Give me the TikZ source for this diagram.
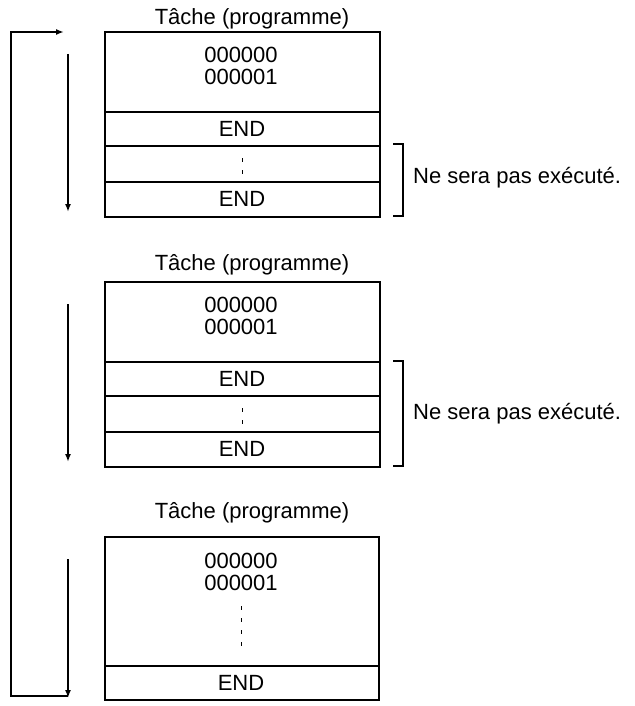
\documentclass[tikz,border=0pt]{standalone}
\usepackage{fontspec}
\setmainfont{Liberation Sans}
\usetikzlibrary{arrows.meta}
\tikzstyle{cell}=[draw,line width=1.6pt]
\tikzstyle{txt}=[inner sep=0pt,font=\fontsize{22}{22}\selectfont]
\tikzstyle{dots}=[line width=0.9pt,dash pattern=on 4pt off 8pt]
\tikzstyle{flow}=[line width=1.6pt,-{Latex[length=8pt,width=6pt]}]

\begin{document}
\begin{tikzpicture}[x=1pt,y=-1pt]
  \useasboundingbox (0,0) rectangle (634,706);

  % first task
  \node[txt] (t1) at (252,19) {Tâche (programme)};
  \draw[cell] (105,32) rectangle (380,217);
  \draw[cell] (105,112) -- (380,112);
  \draw[cell] (105,146) -- (380,146);
  \draw[cell] (105,182) -- (380,182);
  \node[txt] (a1) at (241,55) {000000};
  \node[txt] (b1) at (241,77) {000001};
  \node[txt] (e1) at (242,129) {END};
  \draw[dots] (242,158) -- (242,180);
  \node[txt] (f1) at (242,199) {END};
  \draw[line width=1.4pt] (393,144) -- (403,144) -- (403,216) -- (393,216);
  \node[txt,anchor=west] (n1) at (413,178) {Ne sera pas exécuté.};

  % second task
  \node[txt] (t2) at (252,265) {Tâche (programme)};
  \draw[cell] (105,282) rectangle (380,467);
  \draw[cell] (105,362) -- (380,362);
  \draw[cell] (105,396) -- (380,396);
  \draw[cell] (105,432) -- (380,432);
  \node[txt] (a2) at (241,305) {000000};
  \node[txt] (b2) at (241,327) {000001};
  \node[txt] (e2) at (242,379) {END};
  \draw[dots] (242,408) -- (242,430);
  \node[txt] (f2) at (242,449) {END};
  \draw[line width=1.4pt] (393,361) -- (403,361) -- (403,466) -- (393,466);
  \node[txt,anchor=west] (n2) at (413,414) {Ne sera pas exécuté.};

  % third task
  \node[txt] (t3) at (252,513) {Tâche (programme)};
  \draw[cell] (105,537) rectangle (379,700);
  \draw[cell] (105,666) -- (379,666);
  \node[txt] (a3) at (241,561) {000000};
  \node[txt] (b3) at (241,583) {000001};
  \draw[dots] (241,606) -- (241,648);
  \node[txt] (e3) at (241,683) {END};

  % flow arrows
  \coordinate (s1) at (68,54);  \coordinate (d1) at (68,212);
  \coordinate (s2) at (68,304); \coordinate (d2) at (68,462);
  \coordinate (s3) at (68,559); \coordinate (d3) at (68,698);
  \draw[flow] (s1) -- (d1);
  \draw[flow] (s2) -- (d2);
  \draw[flow] (s3) -- (d3);
  \coordinate (l1) at (68,696); \coordinate (l2) at (11,696);
  \coordinate (l3) at (11,32);  \coordinate (l4) at (64,32);
  \draw[flow] (l1) -- (l2) -- (l3) -- (l4);
\end{tikzpicture}
\end{document}
